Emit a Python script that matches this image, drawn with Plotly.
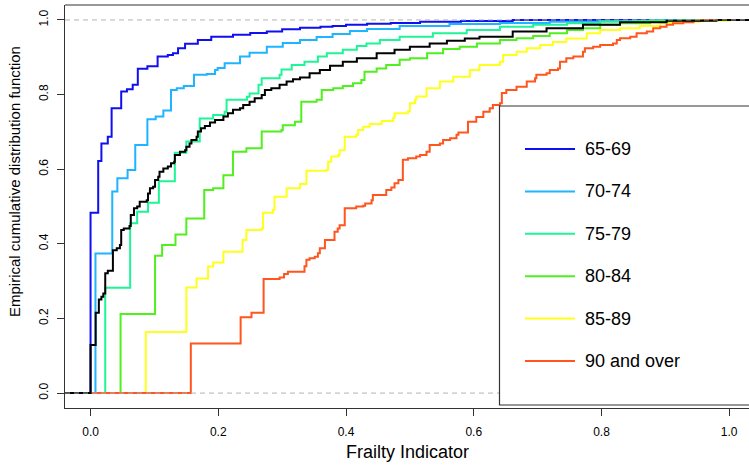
import plotly.graph_objects as go

# ---------------- data (ECDF jump points) ----------------
series_names = ["65-69", "70-74", "75-79", "80-84", "85-89", "90 and over"]
series_colors = ["#0F0FF0", "#1EB4FF", "#1EF596", "#50F01E", "#FFFF1E", "#FF551E"]

x_6569 = [0.000, 0.012, 0.017, 0.027, 0.033, 0.048, 0.057, 0.066, 0.074, 0.089, 0.105, 0.121,
          0.129, 0.137, 0.148, 0.168, 0.189, 0.223, 0.250, 0.276, 0.300, 0.328, 0.360, 0.379,
          0.400, 0.433, 0.470, 0.516, 0.580, 0.661]
y_6569 = [0.483, 0.622, 0.669, 0.687, 0.763, 0.808, 0.814, 0.826, 0.869, 0.876, 0.902, 0.906,
          0.911, 0.924, 0.936, 0.946, 0.955, 0.960, 0.965, 0.969, 0.975, 0.979, 0.982, 0.984,
          0.987, 0.990, 0.992, 0.995, 0.997, 1.000]

x_7074 = [0.0077, 0.034, 0.042, 0.058, 0.070, 0.089, 0.102, 0.114, 0.126, 0.135, 0.146, 0.162,
          0.182, 0.195, 0.199, 0.210, 0.234, 0.249, 0.276, 0.301, 0.328, 0.354, 0.379, 0.406,
          0.433, 0.484, 0.562, 0.641, 0.719, 0.797, 0.876]
y_7074 = [0.374, 0.540, 0.576, 0.598, 0.665, 0.734, 0.741, 0.757, 0.812, 0.817, 0.823, 0.853,
          0.855, 0.866, 0.871, 0.884, 0.902, 0.912, 0.928, 0.938, 0.946, 0.954, 0.962, 0.970,
          0.976, 0.984, 0.989, 0.992, 0.995, 0.997, 1.000]

x_7579 = [0.023, 0.062, 0.073, 0.090, 0.107, 0.132, 0.150, 0.171, 0.192, 0.210, 0.213, 0.245,
          0.249, 0.263, 0.268, 0.296, 0.299, 0.315, 0.335, 0.356, 0.370, 0.395, 0.417, 0.432,
          0.453, 0.484, 0.536, 0.589, 0.641, 0.693, 0.746, 0.798, 0.849, 0.923]
y_7579 = [0.282, 0.455, 0.486, 0.510, 0.568, 0.644, 0.674, 0.736, 0.745, 0.754, 0.786, 0.794,
          0.803, 0.826, 0.844, 0.853, 0.867, 0.879, 0.888, 0.902, 0.911, 0.920, 0.930, 0.937,
          0.946, 0.955, 0.964, 0.973, 0.982, 0.987, 0.991, 0.995, 0.998, 1.000]

x_8084 = [0.047, 0.101, 0.112, 0.133, 0.150, 0.178, 0.192, 0.208, 0.223, 0.244, 0.268, 0.299,
          0.301, 0.320, 0.330, 0.354, 0.362, 0.380, 0.395, 0.411, 0.424, 0.429, 0.448, 0.463,
          0.484, 0.500, 0.527, 0.552, 0.578, 0.605, 0.641, 0.667, 0.693, 0.719, 0.746, 0.771,
          0.798, 0.829, 0.876, 0.928, 0.954]
y_8084 = [0.212, 0.368, 0.397, 0.425, 0.468, 0.544, 0.549, 0.584, 0.647, 0.656, 0.701, 0.705,
          0.718, 0.727, 0.781, 0.786, 0.812, 0.817, 0.823, 0.830, 0.839, 0.861, 0.870, 0.879,
          0.893, 0.897, 0.911, 0.922, 0.928, 0.937, 0.946, 0.951, 0.957, 0.964, 0.973, 0.978,
          0.987, 0.991, 0.995, 0.998, 1.000]

x_8589 = [0.0865, 0.150, 0.166, 0.184, 0.192, 0.208, 0.238, 0.244, 0.268, 0.270, 0.286, 0.288,
          0.307, 0.328, 0.338, 0.369, 0.372, 0.377, 0.388, 0.390, 0.398, 0.416, 0.419, 0.427,
          0.437, 0.456, 0.474, 0.476, 0.497, 0.500, 0.508, 0.510, 0.526, 0.547, 0.568, 0.594,
          0.609, 0.641, 0.646, 0.667, 0.683, 0.704, 0.724, 0.745, 0.777, 0.798, 0.829, 0.860,
          0.892, 0.923, 0.954, 1.000]
y_8589 = [0.164, 0.283, 0.307, 0.339, 0.350, 0.379, 0.410, 0.437, 0.441, 0.483, 0.491, 0.526,
          0.549, 0.560, 0.596, 0.598, 0.620, 0.634, 0.638, 0.651, 0.687, 0.692, 0.705, 0.714,
          0.721, 0.729, 0.738, 0.750, 0.755, 0.777, 0.786, 0.795, 0.817, 0.835, 0.848, 0.866,
          0.879, 0.888, 0.906, 0.915, 0.924, 0.933, 0.941, 0.950, 0.964, 0.973, 0.978, 0.984,
          0.991, 0.995, 0.998, 1.000]

x_90 = [0.157, 0.235, 0.252, 0.271, 0.296, 0.303, 0.309, 0.335, 0.338, 0.343, 0.351, 0.356,
        0.359, 0.367, 0.382, 0.387, 0.390, 0.398, 0.416, 0.427, 0.430, 0.440, 0.442, 0.463,
        0.471, 0.476, 0.482, 0.489, 0.497, 0.510, 0.516, 0.526, 0.531, 0.547, 0.552, 0.563,
        0.573, 0.576, 0.591, 0.604, 0.615, 0.625, 0.630, 0.641, 0.644, 0.651, 0.667, 0.683,
        0.696, 0.698, 0.714, 0.719, 0.732, 0.735, 0.745, 0.756, 0.771, 0.774, 0.787, 0.798,
        0.818, 0.824, 0.829, 0.845, 0.855, 0.871, 0.881, 0.892, 0.902, 0.912, 0.928, 0.944,
        0.959]
y_90 = [0.133, 0.203, 0.215, 0.306, 0.310, 0.319, 0.325, 0.340, 0.357, 0.361, 0.365, 0.375,
        0.388, 0.410, 0.432, 0.441, 0.450, 0.495, 0.500, 0.502, 0.508, 0.517, 0.531, 0.544,
        0.551, 0.562, 0.571, 0.625, 0.629, 0.634, 0.638, 0.647, 0.665, 0.669, 0.678, 0.683,
        0.692, 0.698, 0.727, 0.740, 0.754, 0.763, 0.772, 0.777, 0.804, 0.812, 0.821, 0.835,
        0.844, 0.853, 0.857, 0.866, 0.870, 0.888, 0.897, 0.902, 0.915, 0.924, 0.928, 0.933,
        0.937, 0.946, 0.951, 0.955, 0.964, 0.969, 0.978, 0.982, 0.987, 0.991, 0.994, 0.998,
        1.000]

# overall ECDF (all ages), drawn in black
x_all = [0.000, 0.008, 0.013, 0.017, 0.020, 0.023, 0.027, 0.035, 0.041, 0.046, 0.048, 0.052,
         0.061, 0.063, 0.068, 0.073, 0.077, 0.088, 0.090, 0.093, 0.098, 0.101, 0.106, 0.108,
         0.114, 0.121, 0.126, 0.131, 0.132, 0.140, 0.148, 0.150, 0.155, 0.158, 0.166, 0.168,
         0.173, 0.179, 0.187, 0.195, 0.208, 0.215, 0.223, 0.234, 0.239, 0.249, 0.257, 0.268,
         0.273, 0.283, 0.296, 0.307, 0.317, 0.328, 0.343, 0.359, 0.375, 0.395, 0.417, 0.448,
         0.476, 0.500, 0.531, 0.558, 0.586, 0.609, 0.661, 0.714, 0.771, 0.829, 0.902, 0.980]
y_all = [0.129, 0.215, 0.251, 0.258, 0.267, 0.321, 0.328, 0.383, 0.388, 0.397, 0.437, 0.441,
         0.448, 0.477, 0.495, 0.500, 0.513, 0.517, 0.535, 0.549, 0.553, 0.571, 0.580, 0.593,
         0.602, 0.607, 0.616, 0.620, 0.638, 0.647, 0.651, 0.660, 0.669, 0.678, 0.687, 0.701,
         0.710, 0.716, 0.725, 0.732, 0.741, 0.750, 0.759, 0.763, 0.772, 0.781, 0.790, 0.799,
         0.812, 0.817, 0.826, 0.835, 0.841, 0.846, 0.857, 0.866, 0.877, 0.888, 0.897, 0.911,
         0.920, 0.928, 0.937, 0.944, 0.950, 0.955, 0.969, 0.978, 0.987, 0.994, 0.998, 1.000]

group_x = [x_6569, x_7074, x_7579, x_8084, x_8589, x_90]
group_y = [y_6569, y_7074, y_7579, y_8084, y_8589, y_90]

x_ticks = [0.0, 0.2, 0.4, 0.6, 0.8, 1.0]
y_ticks = [0.0, 0.2, 0.4, 0.6, 0.8, 1.0]
tick_labels = ["0.0", "0.2", "0.4", "0.6", "0.8", "1.0"]

x_title = "Frailty Indicator"
y_title = "Empirical cumulative distribution function"

# ---------------- figure ----------------
W, H = 749, 468
ML, MR, MT, MB = 65, 0, 5, 60
PW, PH = W - ML - MR, H - MT - MB
FONT = "Liberation Sans, Arial, sans-serif"
EXT_L, EXT_R = -0.2, 1.2   # ECDF tails extend beyond the axis range (clipped)


def px(xp):
    return (xp - ML) / PW


def py(yp):
    return (H - MB - yp) / PH


fig = go.Figure()


def add_ecdf(xs, ys, color, name):
    fig.add_trace(go.Scatter(
        x=[EXT_L] + list(xs) + [EXT_R],
        y=[0.0] + list(ys) + [ys[-1]],
        mode="lines", line=dict(color=color, width=2, shape="hv"),
        name=name, hoverinfo="skip", showlegend=False))


for xs, ys, c, n in zip(group_x, group_y, series_colors, series_names):
    add_ecdf(xs, ys, c, n)
add_ecdf(x_all, y_all, "#000000", "All")

axis_common = dict(
    showgrid=False, zeroline=False, showline=True, linecolor="#333333", linewidth=1,
    ticks="outside", ticklen=7, tickcolor="#333333", tickwidth=1,
    tickfont=dict(family=FONT, size=12, color="#000000"),
)
fig.update_xaxes(range=[-0.04, 1.031], tickvals=x_ticks, ticktext=tick_labels,
                 ticklabelstandoff=6, **axis_common)
fig.update_yaxes(range=[-0.04, 1.04], tickvals=y_ticks, ticktext=tick_labels,
                 tickangle=-90, ticklabelstandoff=4, **axis_common)

shapes = []
# top border of the plot box
shapes.append(dict(type="line", xref="paper", yref="paper", x0=0, x1=1, y0=1, y1=1,
                   line=dict(color="#333333", width=1)))
# gray dashed reference lines at 0 and 1
for yv in (0.0, 1.0):
    shapes.append(dict(type="line", xref="paper", yref="y", x0=0, x1=1, y0=yv, y1=yv,
                       line=dict(color="#B3B3B3", width=1, dash="5px,4px"), layer="above"))
# legend box
shapes.append(dict(type="rect", xref="paper", yref="paper", x0=px(499.5), x1=px(760),
                   y0=py(405), y1=py(106), line=dict(color="#333333", width=1.2),
                   fillcolor="white", layer="above"))

annotations = []
for i, (n, c) in enumerate(zip(series_names, series_colors)):
    yy = py(149 + i * 42.4)
    shapes.append(dict(type="line", xref="paper", yref="paper", x0=px(525), x1=px(575),
                       y0=yy, y1=yy, line=dict(color=c, width=2), layer="above"))
    annotations.append(dict(text=n, xref="paper", yref="paper", x=px(583), y=yy,
                            xanchor="left", yanchor="middle", showarrow=False,
                            font=dict(family=FONT, size=18, color="#000000")))

annotations.append(dict(text=x_title, xref="paper", yref="paper", x=px(407), y=py(452),
                        xanchor="center", yanchor="middle", showarrow=False,
                        font=dict(family=FONT, size=18, color="#000000")))
annotations.append(dict(text=y_title, xref="paper", yref="paper", x=px(14), y=py(182),
                        xanchor="center", yanchor="middle", showarrow=False, textangle=-90,
                        font=dict(family=FONT, size=15, color="#000000")))

fig.update_layout(
    width=W, height=H, margin=dict(l=ML, r=MR, t=MT, b=MB, pad=0),
    plot_bgcolor="white", paper_bgcolor="white", showlegend=False,
    shapes=shapes, annotations=annotations,
)

# remove the default page margin so the 749x468 figure fills the window exactly
fig.write_html("out.html", config={"displayModeBar": False},
               post_script="document.body.style.margin='0px';document.body.style.overflow='hidden';")
